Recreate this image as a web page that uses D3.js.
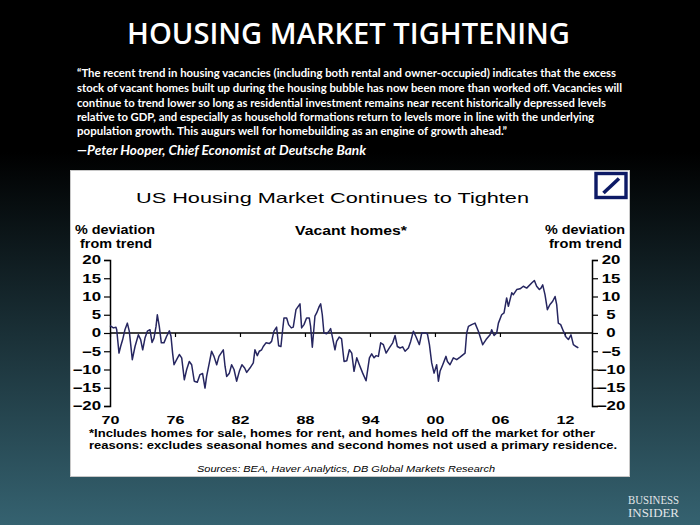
<!DOCTYPE html>
<html><head><meta charset="utf-8">
<script src="https://cdn.jsdelivr.net/npm/d3@7"></script>
<style>html,body{margin:0;padding:0;background:#000;}svg{display:block}</style>
</head><body>
<svg id="c" width="700" height="525"></svg>
<script>
// ---------- data ----------
const years = [
1970.00,1970.31,1970.55,1970.62,1970.83,1970.98,1971.17,1971.38,1971.60,1971.78,
1972.06,1972.31,1972.62,1972.83,1973.02,1973.23,1973.45,1973.69,1973.88,1974.06,
1974.25,1974.37,1974.55,1974.74,1974.98,1975.23,1975.48,1975.63,1975.78,1975.91,
1976.15,1976.40,1976.62,1976.86,1977.08,1977.32,1977.54,1977.78,1978.06,1978.31,
1978.55,1978.77,1978.92,1979.17,1979.38,1979.60,1979.85,1980.06,1980.46,1980.62,
1980.77,1981.02,1981.23,1981.45,1981.69,1981.94,1982.18,1982.43,1982.62,1982.92,
1983.23,1983.38,1983.60,1983.78,1984.00,1984.15,1984.40,1984.71,1984.92,1985.14,
1985.38,1985.57,1985.78,1985.94,1986.06,1986.31,1986.49,1986.74,1986.92,1987.17,
1987.38,1987.54,1987.69,1987.91,1988.15,1988.40,1988.52,1988.68,1988.92,1989.08,
1989.32,1989.45,1989.60,1989.75,1990.00,1990.22,1990.37,1990.52,1990.77,1990.92,
1991.17,1991.38,
1991.61,1991.86,1992.10,1992.32,1992.53,1992.78,1993.02,1993.33,1993.64,1993.95,
1994.16,1994.38,1994.56,1994.78,1994.99,1995.24,1995.49,1995.79,1996.10,1996.32,
1996.53,1996.78,1997.02,1997.24,1997.55,1997.76,1998.01,1998.26,1998.56,1998.78,
1999.09,1999.30,1999.49,1999.70,1999.92,2000.16,2000.32,2000.47,2000.72,2001.02,
2001.15,2001.39,2001.70,2002.01,2002.32,2002.78,2002.93,2003.09,2003.39,2003.70,
2004.01,2004.41,2004.72,2005.09,2005.24,2005.46,2005.70,2005.86,2006.16,2006.38,
2006.62,2006.78,2007.09,2007.24,2007.55,2007.86,2008.16,2008.47,2008.93,2009.18,
2009.39,2009.64,2009.79,2009.95,2010.16,2010.38,2010.62,2010.87,2011.09,2011.24,
2011.39,2011.61,2011.86,2012.10,2012.32,2012.56,2012.78,2013.03,2013.24];
const vacancy = [
2.0,1.4,1.6,0.9,-5.5,-3.7,-1.8,0.9,2.7,0.5,
-7.3,-3.7,-0.5,-1.8,-4.6,-1.4,0.5,0.9,-2.6,-1.4,
1.8,5.0,1.8,-2.7,-2.7,-0.9,0.6,-0.9,-5.5,-8.7,
-7.3,-5.9,-6.8,-12.8,-10.0,-7.8,-8.7,-13.2,-13.5,-11.4,
-11.1,-15.1,-11.9,-8.2,-5.0,-6.4,-8.7,-6.4,-4.6,-9.1,
-11.9,-11.0,-8.7,-10.0,-13.2,-10.5,-8.7,-9.6,-10.8,-9.6,
-8.2,-4.6,-6.2,-5.0,-4.6,-3.7,-2.7,-2.9,-2.3,0.5,
1.6,-3.5,-3.7,0.9,4.1,4.1,2.3,1.4,1.6,6.4,
7.3,8.0,1.4,2.3,4.1,4.1,1.8,-3.9,4.6,5.5,
7.3,8.0,5.0,0.0,-0.2,0.5,1.2,-0.9,-4.6,-2.3,
-1.1,-1.6,
-7.8,-7.6,-4.6,-5.5,-10.5,-6.8,-8.7,-11.0,-13.1,-6.8,
-5.7,-6.8,-6.2,-6.4,-2.7,-3.2,-5.5,-4.1,-2.7,-0.7,
-3.7,-4.1,-3.8,-5.0,-4.1,-2.3,0.5,-1.1,-3.2,0.0,
0.0,-0.2,-3.2,-8.2,-11.0,-8.7,-13.2,-10.5,-8.7,-6.4,
-7.8,-8.7,-6.8,-7.3,-6.6,-5.5,0.0,1.8,2.3,2.7,
0.5,-3.2,-1.8,-0.5,0.9,-0.7,0.0,2.7,5.0,5.5,
9.6,7.3,11.0,10.5,11.9,12.1,12.8,12.3,13.7,14.4,
12.8,11.9,12.3,13.2,10.5,6.4,7.8,8.7,10.0,7.8,
2.7,2.3,0.5,-1.1,-1.8,-0.5,-3.2,-3.7,-4.1];
const xTickYears = [1970,1976,1982,1988,1994,2000,2006,2012];
const xTickLabels = ["70","76","82","88","94","00","06","12"];
const yTickValues = [20,15,10,5,0,-5,-10,-15,-20];

const slideTitle = "HOUSING MARKET TIGHTENING";
const quoteLines = [
 "\u201CThe recent trend in housing vacancies (including both rental and owner-occupied) indicates that the excess",
 "stock of vacant homes built up during the housing bubble has now been more than worked off. Vacancies will",
 "continue to trend lower so long as residential investment remains near recent historically depressed levels",
 "relative to GDP, and especially as household formations return to levels more in line with the underlying",
 "population growth.  This augurs well for homebuilding as an engine of growth ahead.\u201D"];
const attribution = "\u2014Peter Hooper, Chief Economist at Deutsche Bank";
const chartTitle = "US Housing Market Continues to Tighten";
const seriesLabel = "Vacant homes*";
const axisTitle = ["% deviation","from trend"];
const footnote = ["*Includes homes for sale, homes for rent, and homes held off the market for other",
 "reasons: excludes seasonal homes and second homes not used a primary residence."];
const sources = "Sources: BEA, Haver Analytics, DB Global Markets Research";

// ---------- drawing ----------
const svg = d3.select("#c");
const defs = svg.append("defs");
const grad = defs.append("linearGradient").attr("id","bg").attr("x1",0).attr("y1",0).attr("x2",0).attr("y2",1);
grad.append("stop").attr("offset","0").attr("stop-color","#000");
grad.append("stop").attr("offset","0.29").attr("stop-color","#000");
grad.append("stop").attr("offset","1").attr("stop-color","#356270");
svg.append("rect").attr("width",700).attr("height",525).attr("fill","url(#bg)");

function fitW(sel, w){ sel.attr("textLength", w).attr("lengthAdjust","spacingAndGlyphs"); return sel; }
function stretch(sel, f){ sel.each(function(){ const n=this.getComputedTextLength(); d3.select(this).attr("textLength", n*f).attr("lengthAdjust","spacingAndGlyphs");}); return sel; }

// slide title
fitW(svg.append("text").attr("x",127).attr("y",44).attr("fill","#fff")
  .attr("font-family","'Open Sans',sans-serif").attr("font-weight",600).attr("font-size",29)
  .text(slideTitle), 443);

// quote
const qEnds = [616,622,606,594,507];
const qBase = [77,92,107,121,135];
quoteLines.forEach((t,i)=>{
  fitW(svg.append("text").attr("x",77).attr("y",qBase[i]).attr("fill","#fff")
    .attr("font-family","Lato,sans-serif").attr("font-weight",700).attr("font-size",11.5)
    .text(t), qEnds[i]-77);
});
fitW(svg.append("text").attr("x",77).attr("y",155).attr("fill","#fff")
  .attr("font-family","Lato,sans-serif").attr("font-weight",700).attr("font-style","italic").attr("font-size",13.5)
  .text(attribution), 289);

// chart panel
svg.append("rect").attr("x",70.5).attr("y",170.5).attr("width",559).attr("height",306)
  .attr("fill","#fff").attr("stroke","#c8c8c8").attr("stroke-width",1);

// DB logo
const logo = svg.append("g");
logo.append("rect").attr("x",596).attr("y",173.5).attr("width",30).attr("height",24)
  .attr("fill","#fff").attr("stroke","#0d1a66").attr("stroke-width",3.4);
logo.append("line").attr("x1",603.5).attr("y1",193).attr("x2",619).attr("y2",178.5)
  .attr("stroke","#0d1a66").attr("stroke-width",3.6);

const F = "'Liberation Sans',Arial,sans-serif";
fitW(svg.append("text").attr("x",136).attr("y",203).attr("fill","#000").attr("font-family",F)
  .attr("font-size",15).text(chartTitle), 393);

fitW(svg.append("text").attr("x",295).attr("y",235).attr("fill","#000").attr("font-family",F)
  .attr("font-weight",700).attr("font-size",12.5).text(seriesLabel), 112);

// axis titles
[[75,155,234],[80,152,248]].forEach((p,i)=>{
  fitW(svg.append("text").attr("x",p[0]).attr("y",p[2]).attr("font-family",F).attr("font-weight",700)
    .attr("font-size",12.5).text(axisTitle[i]), p[1]-p[0]);
});
[[545,625,234],[549,622,248]].forEach((p,i)=>{
  fitW(svg.append("text").attr("x",p[0]).attr("y",p[2]).attr("font-family",F).attr("font-weight",700)
    .attr("font-size",12.5).text(axisTitle[i]), p[1]-p[0]);
});

// scales
const x = d3.scaleLinear().domain([1970, 2014.5]).range([110, 592]);
const y = d3.scaleLinear().domain([-20, 20]).range([406, 260]);

// y axes
const yAxL = d3.axisLeft(y).tickValues(yTickValues).tickSize(6).tickPadding(3).tickFormat(d3.format("d"));
const gL = svg.append("g").attr("transform","translate(110,0)").call(yAxL);
const yAxR = d3.axisRight(y).tickValues(yTickValues).tickSize(6).tickPadding(3).tickFormat(d3.format("d"));
const gR = svg.append("g").attr("transform","translate(592,0)").call(yAxR);
[gL,gR].forEach(g=>{
  g.select(".domain").attr("stroke","#000").attr("stroke-width",1.5);
  g.selectAll(".tick line").attr("stroke","#000").attr("stroke-width",1.2);
  g.selectAll(".tick text").attr("fill","#000").attr("font-family",F).attr("font-weight",700).attr("font-size",12);
});
gL.selectAll(".tick text").attr("x",-9);
gR.selectAll(".tick text").attr("text-anchor","middle").attr("x",19);
stretch(gL.selectAll(".tick text"),1.4);
stretch(gR.selectAll(".tick text"),1.4);

// zero line & x ticks
svg.append("line").attr("x1",110).attr("x2",592).attr("y1",y(0)).attr("y2",y(0))
  .attr("stroke","#000").attr("stroke-width",1.5);
const xAx = d3.axisBottom(x).tickValues(xTickYears).tickSize(4).tickFormat((d,i)=>xTickLabels[i]);
const gX = svg.append("g").attr("transform",`translate(0,${y(0)})`).call(xAx);
gX.select(".domain").remove();
gX.selectAll(".tick line").attr("stroke","#000").attr("stroke-width",1.2);
gX.selectAll(".tick text").attr("y", 424 - y(0)).attr("dy",0).attr("fill","#000")
  .attr("font-family",F).attr("font-weight",700).attr("font-size",11.5);
stretch(gX.selectAll(".tick text"),1.4);

// series line
const pts = years.map((yr,i)=>[yr, vacancy[i]]);
svg.append("path").datum(pts)
  .attr("d", d3.line().x(d=>x(d[0])).y(d=>y(d[1])))
  .attr("fill","none").attr("stroke","#262660").attr("stroke-width",1.5).attr("stroke-linejoin","round");

// footnote
fitW(svg.append("text").attr("x",89).attr("y",437).attr("font-family",F).attr("font-weight",700)
  .attr("font-size",11).text(footnote[0]), 506);
fitW(svg.append("text").attr("x",89).attr("y",449).attr("font-family",F).attr("font-weight",700)
  .attr("font-size",11).text(footnote[1]), 528);

fitW(svg.append("text").attr("x",197).attr("y",472).attr("font-family",F).attr("font-style","italic")
  .attr("font-size",8.5).text(sources), 298);

// Business Insider
const BI = "'Liberation Serif','DejaVu Serif',serif";
fitW(svg.append("text").attr("x",628).attr("y",504).attr("fill","#e2e6e8").attr("font-family",BI)
  .attr("font-size",12).text("BUSINESS"), 51);
fitW(svg.append("text").attr("x",628).attr("y",517).attr("fill","#e2e6e8").attr("font-family",BI)
  .attr("font-size",12).text("INSIDER"), 51);
</script>
</body></html>
